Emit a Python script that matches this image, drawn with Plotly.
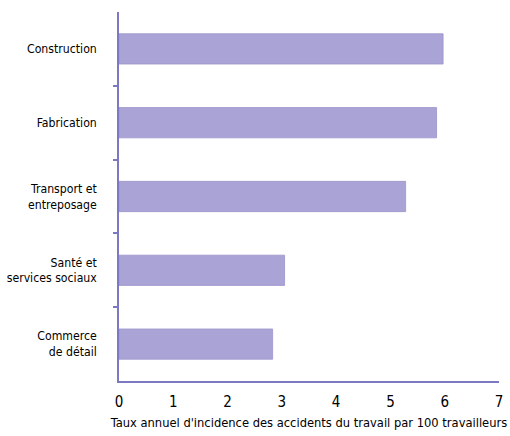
import plotly.graph_objects as go

# Secteurs d'activité et taux annuel d'incidence (pour 100 travailleurs)
secteurs = ["Construction", "Fabrication", "Transport et<br>entreposage",
            "Santé et<br>services sociaux", "Commerce<br>de détail"]
taux = [5.97, 5.85, 5.28, 3.05, 2.83]
x_ticks = [0, 1, 2, 3, 4, 5, 6, 7]

positions = list(range(len(secteurs)))
axis_color = "#7d78c2"
font_family = "DejaVu Sans Condensed, DejaVu Sans, sans-serif"

fig = go.Figure(
    go.Bar(
        x=taux,
        y=positions,
        orientation="h",
        width=0.41,
        marker=dict(color="#aaa4d6", line=dict(color="#9a94cc", width=0.8)),
        hoverinfo="x+y",
    )
)

fig.update_layout(
    width=510,
    height=436,
    margin=dict(l=119, r=11, t=12, b=55),
    paper_bgcolor="white",
    plot_bgcolor="white",
    showlegend=False,
    font=dict(family=font_family, size=13, color="black"),
)

fig.update_xaxes(
    range=[0, 7],
    tickvals=x_ticks,
    ticktext=[str(v) for v in x_ticks],
    tickfont=dict(size=15),
    ticklabelstandoff=6,
    showgrid=False,
    zeroline=False,
    showline=True,
    linecolor=axis_color,
    linewidth=1.5,
    ticks="",
    automargin=False,
    title=dict(text="Taux annuel d'incidence des accidents du travail par 100 travailleurs",
               font=dict(size=12.8), standoff=8),
)

fig.update_yaxes(
    range=[len(secteurs) - 0.5, -0.5],
    tickvals=positions,
    ticktext=secteurs,
    tickfont=dict(size=12.2),
    showgrid=False,
    zeroline=False,
    showline=True,
    linecolor=axis_color,
    linewidth=1.5,
    ticks="",
    automargin=False,
    ticklabelstandoff=18,
    minor=dict(
        tickmode="array",
        tickvals=[p + 0.5 for p in positions[:-1]],
        ticks="outside",
        ticklen=4,
        tickwidth=1.5,
        tickcolor=axis_color,
        showgrid=False,
    ),
)

fig.write_html("out.html")
